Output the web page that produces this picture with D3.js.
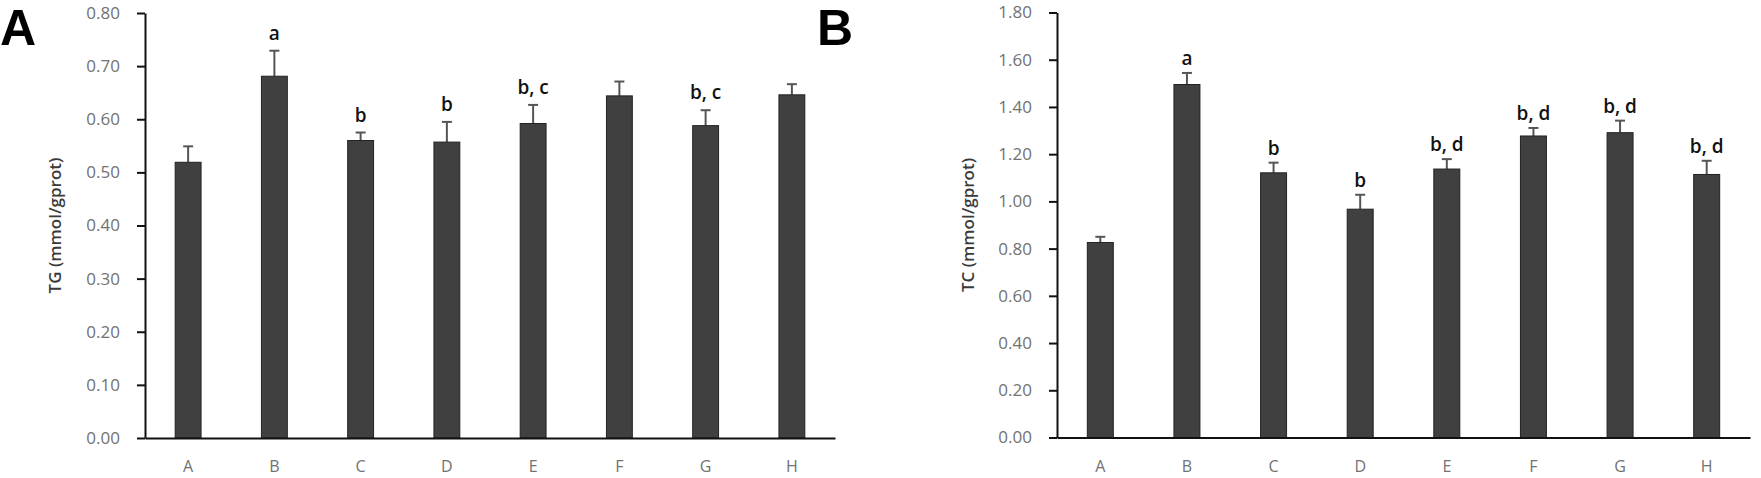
<!DOCTYPE html>
<html>
<head>
<meta charset="utf-8">
<script src="https://cdn.jsdelivr.net/npm/d3@7"></script>
<style>
  body { margin: 0; background: #fff; }
  .domain { stroke: #111; stroke-width: 2px; }
  .tick line { stroke: #111; stroke-width: 2px; }
</style>
</head>
<body>
<div class="chart"></div>
<script>
  const width = 1761;
  const height = 478;

  const groups = ['A', 'B', 'C', 'D', 'E', 'F', 'G', 'H'];

  const tgMean = [0.519, 0.681, 0.560, 0.557, 0.592, 0.644, 0.588, 0.646];
  const tgErr = [0.030, 0.048, 0.015, 0.038, 0.035, 0.027, 0.029, 0.020];
  const tgSig = ['', 'a', 'b', 'b', 'b, c', '', 'b, c', ''];
  const tgTicks = [0, 0.1, 0.2, 0.3, 0.4, 0.5, 0.6, 0.7, 0.8];

  const tcMean = [0.826, 1.495, 1.121, 0.967, 1.137, 1.277, 1.291, 1.114];
  const tcErr = [0.024, 0.049, 0.043, 0.061, 0.042, 0.034, 0.051, 0.058];
  const tcSig = ['', 'a', 'b', 'b', 'b, d', 'b, d', 'b, d', 'b, d'];
  const tcTicks = [0, 0.2, 0.4, 0.6, 0.8, 1.0, 1.2, 1.4, 1.6, 1.8];

  const svg = d3.select('.chart').append('svg')
    .attr('width', width)
    .attr('height', height)

  panel({
    letter: 'A', letterX: 0,
    yLabel: 'TG (mmol/gprot)', labelX: 55,
    x0: 145, x1: 835, yTop: 13, yBottom: 438,
    max: 0.8, ticks: tgTicks,
    mean: tgMean, err: tgErr, sig: tgSig, sigGap: 11,
  })

  panel({
    letter: 'B', letterX: 817,
    yLabel: 'TC (mmol/gprot)', labelX: 968,
    x0: 1057, x1: 1750, yTop: 12.5, yBottom: 437.5,
    max: 1.8, ticks: tcTicks,
    mean: tcMean, err: tcErr, sig: tcSig, sigGap: 8,
  })

function panel(p) {
  const data = groups.map((g, i) => ({
    group: g, mean: p.mean[i], err: p.err[i], sig: p.sig[i]
  }))

  const xScale = d3.scaleBand()
    .domain(groups)
    .range([p.x0, p.x1])
    .paddingInner(0.7)
    .paddingOuter(0.35)

  const yScale = d3.scaleLinear()
    .domain([0, p.max])
    .range([p.yBottom, p.yTop])

  const g = svg.append('g')

  // panel letter
  g.append('text')
    .attr('x', p.letterX)
    .attr('y', 45)
    .text(p.letter)
    .style('font-family', 'Liberation Sans, Arial, sans-serif')
    .style('font-weight', 'bold')
    .style('font-size', '50px')
    .attr('fill', '#000')

  // y label
  g.append('text')
    .attr('transform', `translate(${p.labelX}, ${(p.yTop + p.yBottom) / 2}) rotate(-90)`)
    .attr('text-anchor', 'middle')
    .attr('dy', '0.35em')
    .text(p.yLabel)
    .style('font-family', 'Open Sans, sans-serif')
    .style('font-weight', '600')
    .style('font-size', '17px')
    .attr('fill', '#3a3a3a')

  const bar = g.append('g').selectAll('g')
    .data(data)
    .join('g')

  bar.append('line')
    .attr('x1', d => xScale(d.group) + xScale.bandwidth() / 2)
    .attr('x2', d => xScale(d.group) + xScale.bandwidth() / 2)
    .attr('y1', d => yScale(d.mean))
    .attr('y2', d => yScale(d.mean + d.err))
    .attr('stroke', '#555')
    .attr('stroke-width', 2)

  bar.append('line')
    .attr('x1', d => xScale(d.group) + xScale.bandwidth() / 2 - 5)
    .attr('x2', d => xScale(d.group) + xScale.bandwidth() / 2 + 5)
    .attr('y1', d => yScale(d.mean + d.err))
    .attr('y2', d => yScale(d.mean + d.err))
    .attr('stroke', '#555')
    .attr('stroke-width', 2)

  bar.append('rect')
    .attr('x', d => xScale(d.group))
    .attr('y', d => yScale(d.mean))
    .attr('width', xScale.bandwidth())
    .attr('height', d => yScale(0) - yScale(d.mean))
    .attr('fill', '#404040')
    .attr('stroke', '#222')
    .attr('stroke-width', 1)

  bar.append('text')
    .attr('x', d => xScale(d.group) + xScale.bandwidth() / 2)
    .attr('y', d => yScale(d.mean + d.err) - p.sigGap)
    .attr('text-anchor', 'middle')
    .text(d => d.sig)
    .style('font-family', 'Open Sans, sans-serif')
    .style('font-weight', '600')
    .style('font-size', '19px')
    .attr('fill', '#111')

  const yAxis = d3.axisLeft(yScale)
    .tickValues(p.ticks)
    .tickFormat(d3.format('.2f'))
    .tickSize(8)
    .tickPadding(17)
    .tickSizeOuter(0)

  const xAxis = d3.axisBottom(xScale)
    .tickSize(0)
    .tickPadding(23)
    .tickSizeOuter(0)

  const ya = g.append('g')
    .attr('transform', `translate(${p.x0}, 0)`)
    .call(yAxis)
  ya.selectAll('text')
    .style('font-family', 'Open Sans, sans-serif')
    .style('font-size', '17px')
    .attr('fill', '#727272')

  const xa = g.append('g')
    .attr('transform', `translate(0, ${p.yBottom})`)
    .call(xAxis)
  xa.selectAll('text')
    .style('font-family', 'Open Sans, sans-serif')
    .style('font-size', '16px')
    .attr('fill', '#727272')
}
</script>
</body>
</html>
